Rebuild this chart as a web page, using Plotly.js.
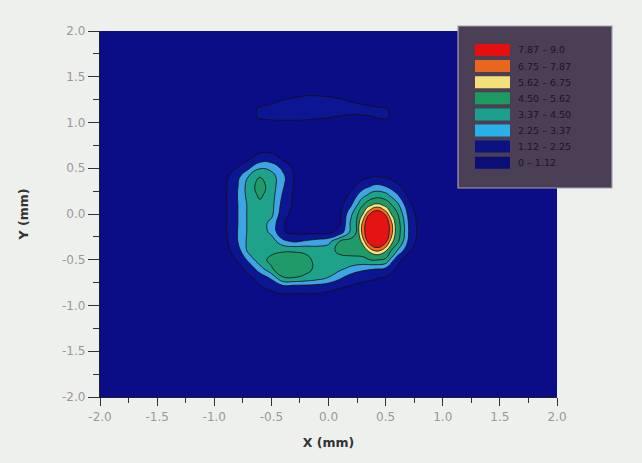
<!DOCTYPE html>
<html>
<head>
<meta charset="utf-8">
<script src="https://cdn.plot.ly/plotly-3.0.1.min.js"></script>
<style>
html,body{margin:0;padding:0;background:#eef0ee;}
#chart{width:642px;height:463px;}
</style>
</head>
<body>
<div id="chart"></div>
<script>
// grid coordinates (mm)
const xGrid = [-2.0, -1.2, -1.0, -0.9, -0.8, -0.7, -0.6, -0.5, -0.4, -0.3, -0.2, -0.1, 0.0, 0.1, 0.2, 0.3, 0.4, 0.5, 0.6, 0.7, 0.8, 0.9, 1.1, 2.0];
const yGrid = [-2.0, -1.2, -1.0, -0.9, -0.8, -0.7, -0.6, -0.5, -0.4, -0.3, -0.2, -0.1, 0.0, 0.1, 0.2, 0.3, 0.4, 0.5, 0.6, 0.7, 0.8, 0.95, 1.05, 1.15, 1.25, 1.35, 1.5, 2.0];
const zGrid = [
[0,0,0,0,0,0,0,0,0,0,0,0,0,0,0,0,0,0,0,0,0,0,0,0],
[0,0,0,0,0,0,0,0,0,0,0,0,0,0,0,0,0,0,0,0,0,0,0,0],
[0,0,0,0,0,0,0,0,0.3,0.3,0.3,0.3,0.2,0,0,0,0,0,0,0,0,0,0,0],
[0,0,0,0,0.1,0.2,0.4,0.7,0.9,0.9,0.9,0.9,0.8,0.6,0.5,0.4,0.3,0.2,0.1,0,0,0,0,0],
[0,0,0,0.1,0.3,0.6,1.0,1.4,1.7,1.65,1.65,1.6,1.4,1.2,1.0,0.9,0.8,0.6,0.4,0.2,0,0,0,0],
[0,0,0,0,0.3,0.8,1.6,2.4,4.4,4.45,4.2,3.8,3.3,2.4,1.6,1.3,1.2,1.0,0.6,0.3,0,0,0,0],
[0,0,0,0.2,0.6,1.5,2.8,4.4,5.1,5.2,4.9,4.2,4.0,3.6,3.0,2.5,2.3,2.0,1.0,0.5,0.1,0,0,0],
[0,0,0,0.5,1.2,2.5,4.2,4.7,5.0,5.0,4.8,4.2,4.0,4.1,4.2,4.3,4.63,4.33,1.5,0.6,0.2,0,0,0],
[0,0,0.2,0.8,1.6,3.7,4.3,4.3,4.4,4.4,4.3,4.0,4.1,4.8,4.9,4.9,5.5,5.5,3.4,1.3,0.4,0,0,0],
[0,0,0.3,0.9,2.15,3.7,4.2,4.0,2.6,2.1,2.4,2.7,3.0,4.6,4.9,5.5,5.5,5.5,4.9,2.05,0.55,0.1,0,0],
[0,0,0.3,1.0,2.2,3.6,4.1,3.1,1.2,0.9,0.8,0.8,0.8,1.6,3.75,5.5,5.5,5.5,5.33,2.3,0.63,0.1,0,0],
[0,0,0.3,1.0,2.15,3.6,4.0,3.0,1.2,0.8,0.7,0.6,0.7,0.9,3.7,5.5,5.5,5.5,5.26,2.22,0.61,0.1,0,0],
[0,0,0.3,1.0,2.15,3.6,4.0,3.7,1.5,0.8,0.7,0.6,0.6,0.91,3.2,5.44,5.5,5.5,4.7,1.94,0.51,0,0,0],
[0,0,0.3,1.0,2.15,3.6,4.2,3.8,1.8,0.9,0.6,0.5,0.5,0.71,2.17,4.43,5.5,5.34,3.75,1.43,0.33,0,0,0],
[0,0,0.3,1.0,2.2,3.8,4.7,3.9,2.1,0.9,0.5,0.3,0.3,0.44,1.43,3.08,4.12,3.85,2.5,0.95,0.19,0,0,0],
[0,0,0.3,1.0,2.1,3.9,5.0,4.0,2.4,1.0,0.5,0.3,0.2,0.2,0.86,1.79,2.51,2.28,1.35,0.62,0.04,0,0,0],
[0,0,0.2,0.9,1.9,3.5,4.6,3.9,2.6,1.0,0.4,0.1,0,0,0.23,0.91,1.20,1.09,0.74,0.22,0,0,0,0],
[0,0,0,0.3,1.2,2.1,3.3,3.1,2.0,0.9,0.3,0,0,0,0,0.4,0.6,0.5,0.3,0,0,0,0,0],
[0,0,0,0,0.4,1.0,1.7,1.7,1.0,0.4,0,0,0,0,0,0,0,0,0,0,0,0,0,0],
[0,0,0,0,0,0.4,0.8,0.8,0.4,0,0,0,0,0,0,0,0,0,0,0,0,0,0,0],
[0,0,0,0,0,0,0,0,0,0,0,0,0,0,0,0,0,0,0,0,0,0,0,0],
[0,0,0,0,0,0,0.3,0.5,0.6,0.6,0.5,0.4,0.4,0.3,0.3,0.4,0.5,0.5,0.3,0,0,0,0,0],
[0,0,0,0,0.3,0.9,1.2,1.3,1.3,1.3,1.3,1.2,1.1,1.0,0.9,1.0,1.1,1.2,0.9,0.4,0,0,0,0],
[0,0,0,0,0.1,0.6,1.3,1.5,1.6,1.7,1.8,1.8,1.7,1.6,1.5,1.4,1.3,1.2,0.8,0.3,0,0,0,0],
[0,0,0,0,0,0,0.5,0.8,1.1,1.3,1.5,1.5,1.4,1.2,1.0,0.8,0.6,0.4,0,0,0,0,0,0],
[0,0,0,0,0,0,0,0,0,0.4,0.6,0.6,0.5,0.3,0,0,0,0,0,0,0,0,0,0],
[0,0,0,0,0,0,0,0,0,0,0,0,0,0,0,0,0,0,0,0,0,0,0,0],
[0,0,0,0,0,0,0,0,0,0,0,0,0,0,0,0,0,0,0,0,0,0,0,0]
];
// hot spot core on a finer grid (mm)
const hotX = [0.2, 0.25, 0.3, 0.35, 0.4, 0.45, 0.5, 0.55, 0.6, 0.65, 0.7];
const hotY = [-0.5, -0.45, -0.4, -0.35, -0.3, -0.25, -0.2, -0.15, -0.1, -0.05, 0.0, 0.05, 0.1, 0.15];
const hotZ = [
[4.0,4.0,4.06,4.36,4.53,4.53,4.36,4.06,4.0,4.0,4.0],
[4.0,4.0,4.36,4.86,5.37,5.37,4.86,4.36,4.0,4.0,4.0],
[4.0,4.14,4.69,5.78,6.78,6.78,5.78,4.69,4.14,4.0,4.0],
[4.0,4.35,5.35,7.13,8.24,8.24,7.13,5.35,4.35,4.0,4.0],
[4.0,4.51,6.09,8.24,9.0,9.0,8.24,6.09,4.51,4.0,4.0],
[4.0,4.69,6.80,9.0,9.0,9.0,9.0,6.80,4.69,4.0,4.0],
[4.05,4.87,7.21,9.0,9.0,9.0,9.0,7.21,4.87,4.05,4.0],
[4.06,4.90,7.29,9.0,9.0,9.0,9.0,7.29,4.90,4.06,4.0],
[4.03,4.77,7.01,9.0,9.0,9.0,9.0,7.01,4.77,4.03,4.0],
[4.0,4.57,6.40,8.58,9.0,9.0,8.58,6.40,4.57,4.0,4.0],
[4.0,4.42,5.58,7.64,8.71,8.71,7.64,5.58,4.42,4.0,4.0],
[4.0,4.23,4.96,6.32,7.40,7.40,6.32,4.96,4.23,4.0,4.0],
[4.0,4.0,4.47,5.20,5.82,5.82,5.20,4.47,4.0,4.0,4.0],
[4.0,4.0,4.18,4.50,4.79,4.79,4.50,4.18,4.0,4.0,4.0]
];
const levelStart = 1.125, levelEnd = 7.875, levelSize = 1.125;
const bandColors = ['#0a0d86', '#0d1692', '#3ea4e4', '#1fa28a', '#1f9a68', '#f3e47e', '#ee6a22', '#e41414'];
const legendLabels = ['7.87 \u2013 9.0', '6.75 \u2013 7.87', '5.62 \u2013 6.75', '4.50 \u2013 5.62', '3.37 \u2013 4.50', '2.25 \u2013 3.37', '1.12 \u2013 2.25', '0 \u2013 1.12'];
const legendColors = ['#e60f0f', '#e8661e', '#f2e07a', '#1c9a62', '#1aa08c', '#2ab0e8', '#0a1380', '#0a0f78'];
const tickVals = [-2.0, -1.5, -1.0, -0.5, 0.0, 0.5, 1.0, 1.5, 2.0];
const tickText = ['-2.0', '-1.5', '-1.0', '-0.5', '0.0', '0.5', '1.0', '1.5', '2.0'];

// plot area in pixels (for legend placement)
const PL = 100, PR = 557, PT = 31, PB = 397;
const px = v => (v - PL) / (PR - PL);
const py = v => (PB - v) / (PB - PT);

const n = bandColors.length;
const colorscale = bandColors.map((c, i) => [i / (n - 1), c]);
const hotScale = [[0, 'rgba(0,0,0,0)'], [1 / 3, bandColors[5]], [2 / 3, bandColors[6]], [1, bandColors[7]]];
const lineStyle = {color: '#101010', width: 0.8, smoothing: 1.3};

const baseTrace = {
  type: 'contour',
  x: xGrid, y: yGrid, z: zGrid,
  autocontour: false,
  contours: {start: levelStart, end: levelEnd, size: levelSize, coloring: 'fill', showlines: true},
  line: lineStyle,
  colorscale: colorscale,
  showscale: false,
  hoverinfo: 'skip'
};
const hotTrace = {
  type: 'contour',
  x: hotX, y: hotY, z: hotZ,
  autocontour: false,
  contours: {start: 5 * levelSize, end: levelEnd, size: levelSize, coloring: 'fill', showlines: true},
  line: lineStyle,
  colorscale: hotScale,
  showscale: false,
  hoverinfo: 'skip'
};

const shapes = [{
  type: 'rect', xref: 'paper', yref: 'paper',
  x0: px(458), x1: px(612), y0: py(188), y1: py(26),
  fillcolor: '#4a3f55', line: {color: '#a59fb5', width: 1.2}, layer: 'above'
}];
const annotations = [];
legendColors.forEach((c, i) => {
  const cy = 50 + i * 16.1;
  shapes.push({
    type: 'rect', xref: 'paper', yref: 'paper',
    x0: px(475), x1: px(510), y0: py(cy + 6), y1: py(cy - 6),
    fillcolor: c, line: {width: 0}, layer: 'above'
  });
  annotations.push({
    xref: 'paper', yref: 'paper', x: px(516), y: py(cy),
    xanchor: 'left', yanchor: 'middle', showarrow: false,
    text: legendLabels[i],
    font: {family: 'DejaVu Sans, sans-serif', size: 9.5, color: '#1c1622'}
  });
});

const tickFont = {family: 'DejaVu Sans, sans-serif', size: 12, color: '#989898'};
const titleFont = {family: 'DejaVu Sans, sans-serif', size: 12.5, color: '#333'};
const minorCommon = {dtick: 0.25, tick0: 0, ticks: 'outside', tickcolor: '#333', showgrid: false};

const layout = {
  width: 642, height: 463,
  margin: {l: PL, r: 642 - PR, t: PT, b: 463 - PB},
  paper_bgcolor: '#eef0ee',
  plot_bgcolor: bandColors[0],
  showlegend: false,
  xaxis: {
    range: [-2, 2], tickmode: 'array', tickvals: tickVals, ticktext: tickText,
    ticks: 'outside', ticklen: 8, tickwidth: 1, tickcolor: '#333',
    minor: Object.assign({ticklen: 5}, minorCommon),
    showline: true, linecolor: '#222', linewidth: 1.2,
    showgrid: false, zeroline: false, tickfont: tickFont,
    title: {text: '<b>X (mm)</b>', standoff: 15, font: titleFont}
  },
  yaxis: {
    range: [-2, 2], tickmode: 'array', tickvals: tickVals, ticktext: tickText,
    ticks: 'outside', ticklen: 11, tickwidth: 1, tickcolor: '#333',
    minor: Object.assign({ticklen: 6}, minorCommon),
    showline: true, linecolor: '#222', linewidth: 1.2,
    showgrid: false, zeroline: false, tickfont: tickFont,
    title: {text: '<b>Y (mm)</b>', standoff: 30, font: titleFont}
  },
  shapes: shapes,
  annotations: annotations
};

Plotly.newPlot('chart', [baseTrace, hotTrace], layout, {displayModeBar: false, staticPlot: true});
</script>
</body>
</html>
